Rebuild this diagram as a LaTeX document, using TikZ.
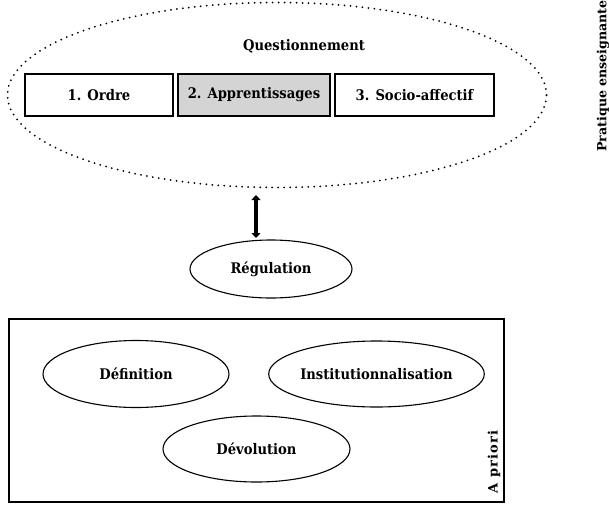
\documentclass[tikz,border=0pt]{standalone}
\usepackage{fontspec}
\setmainfont{DejaVu Serif Condensed}[BoldFont={DejaVu Serif Condensed Bold}]
\newfontfamily\widefont{DejaVu Serif}[BoldFont={DejaVu Serif Bold}]
\usetikzlibrary{shapes.geometric,arrows.meta}
\definecolor{boxgray}{RGB}{212,212,212}
\tikzset{
  lbl/.style={font=\bfseries\fontsize{14.6}{16}\selectfont},
  catbox/.style={draw=black, line width=1.4pt, minimum height=42pt, inner sep=0pt, lbl},
  oval/.style={ellipse, draw=black, line width=1.1pt, inner sep=0pt, lbl},
  dotted oval/.style={ellipse, draw=black, line width=2pt, line cap=round, dash pattern=on 0pt off 6pt, inner sep=0pt},
  side/.style={rotate=90, inner sep=0pt},
  dbl/.style={{Triangle[width=9pt,length=5pt]}-{Triangle[width=9pt,length=5pt]}, line width=3.4pt}
}
\begin{document}
\begin{tikzpicture}[x=1pt,y=-1pt]
\useasboundingbox (0,0) rectangle (609,506);
% top dotted ellipse
\node[dotted oval, minimum width=539pt, minimum height=185pt] (quest) at (277,95) {};
\node[lbl] (qt) at (304,46) {Questionnement};
\node[catbox, minimum width=148pt] (b1) at (99,95) {1. Ordre};
\node[catbox, minimum width=152pt, fill=boxgray] (b2) at (254,95) {2. Apprentissages};
\node[catbox, minimum width=159pt] (b3) at (414.5,95) {3. Socio-affectif};
\node[side, anchor=east, font=\widefont\bfseries\fontsize{12.6}{14}\selectfont] (prat) at (603,0) {Pratique enseignante};
% regulation
\node[oval, minimum width=162pt, minimum height=58pt] (reg) at (271,269) {Régulation};
\coordinate (atop) at (256,195);
\coordinate (abot) at (256,238);
\draw[dbl] (atop) -- (abot);
% a priori frame
\node[draw=black, line width=1.1pt, minimum width=495pt, minimum height=183pt, inner sep=0pt] (frame) at (256.5,410.5) {};
\node[oval, minimum width=186pt, minimum height=67pt] (def) at (136,374) {Définition};
\node[oval, minimum width=187pt, minimum height=66pt] (inst) at (376.5,374) {Institutionnalisation};
\node[oval, minimum width=187pt, minimum height=66pt] (dev) at (256.5,449) {Dévolution};
\node[side, anchor=center, font=\widefont\bfseries\fontsize{13}{14}\selectfont\addfontfeature{LetterSpace=10}] (apr) at (494,462) {A priori};
\end{tikzpicture}
\end{document}
